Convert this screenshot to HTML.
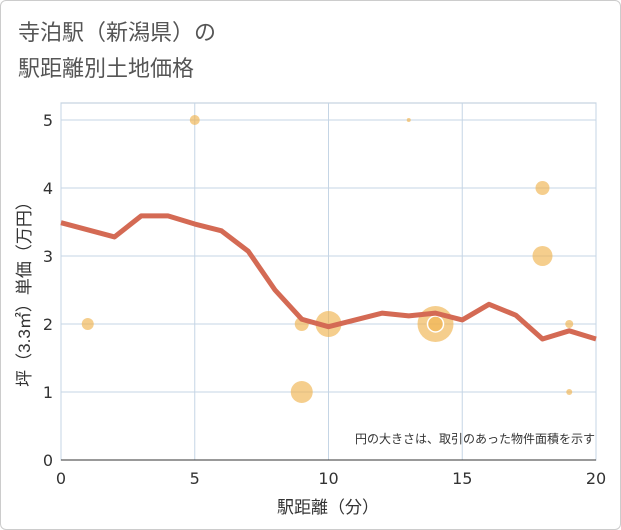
<!DOCTYPE html>
<html><head><meta charset="utf-8"><style>
body{margin:0;background:#fff;font-family:"Liberation Sans","Noto Sans CJK JP",sans-serif;}
#card{position:absolute;left:0;top:0;width:619px;height:528px;border:1px solid #ccc;border-radius:6px;background:#fff;}
</style></head><body>
<div id="card"></div>
<svg id="chart" width="621" height="530" style="position:absolute;left:0;top:0">
<text x="18" y="40" font-size="22" fill="#555" font-family="Liberation Sans, Noto Sans CJK JP, sans-serif">寺泊駅（新潟県）の</text>
<text x="18" y="76" font-size="22" fill="#555" font-family="Liberation Sans, Noto Sans CJK JP, sans-serif">駅距離別土地価格</text>
<g id="grid"></g><g id="bubbles"></g><g id="line"></g><g id="axes" font-family="DejaVu Sans, sans-serif"></g>
<text x="595" y="443" font-size="12" fill="#333" text-anchor="end" font-family="Liberation Sans, Noto Sans CJK JP, sans-serif">円の大きさは、取引のあった物件面積を示す</text>
<text x="328" y="513" font-size="17" fill="#333" text-anchor="middle" font-family="Liberation Sans, Noto Sans CJK JP, sans-serif">駅距離（分）</text>
<text transform="translate(30,290) rotate(-90)" font-size="17" fill="#333" text-anchor="middle" font-family="Liberation Sans, Noto Sans CJK JP, sans-serif">坪（3.3㎡）単価（万円）</text>
</svg>
<script>
const lineX=[0,2,3,4,5,6,7,8,9,10,11,12,13,14,15,16,17,18,19,20];
const lineY=[3.49,3.28,3.59,3.59,3.47,3.37,3.07,2.5,2.07,1.96,2.06,2.16,2.12,2.16,2.06,2.29,2.13,1.78,1.9,1.78];
const bubX=[1,5,9,9,10,13,14,14,18,18,19,19];
const bubY=[2,5,2,1,2,5,2,2,4,3,2,1];
const bubR=[6,5,7,11,13,2,18,8,7,10,4,3];
const xTicks=[0,5,10,15,20];
const yTicks=[0,1,2,3,4,5];
const NS='http://www.w3.org/2000/svg';
const L=61,R=596,T=103,B=460;
const sx=v=>L+v*(R-L)/20, sy=v=>B-v*68;
function mk(p,t,a){const e=document.createElementNS(NS,t);for(const k in a)e.setAttribute(k,a[k]);document.getElementById(p).appendChild(e);return e;}
let e=mk('grid','rect',{x:L,y:T,width:R-L,height:B-T,fill:'#fff',stroke:'#b8c8d8'});


xTicks.forEach(v=>{let g=mk('grid','line',{x1:sx(v),x2:sx(v),y1:T,y2:B,stroke:'#c5d5e5'});


let t=mk('axes','text',{x:sx(v),y:B+24,'font-size':16,fill:'#333','text-anchor':'middle'});t.textContent=v;

});
yTicks.forEach(v=>{let g=mk('grid','line',{x1:L,x2:R,y1:sy(v),y2:sy(v),stroke:'#c5d5e5'});


let t=mk('axes','text',{x:L-8,y:sy(v)+6,'font-size':16,fill:'#333','text-anchor':'end'});t.textContent=v;

});
let ax=mk('axes','line',{x1:L,x2:R,y1:B,y2:B,stroke:'#333'});


bubX.forEach((v,i)=>{let c=mk('bubbles','circle',{cx:sx(v),cy:sy(bubY[i]),r:bubR[i],fill:'#f0b450','fill-opacity':0.65,stroke:i==7?'#fff':'none','stroke-width':1.5});

});
let p=mk('line','polyline',{points:lineX.map((v,i)=>sx(v)+','+sy(lineY[i])).join(' '),fill:'none',stroke:'#d46a54','stroke-width':5,'stroke-linejoin':'round'});


</script>
</body></html>
